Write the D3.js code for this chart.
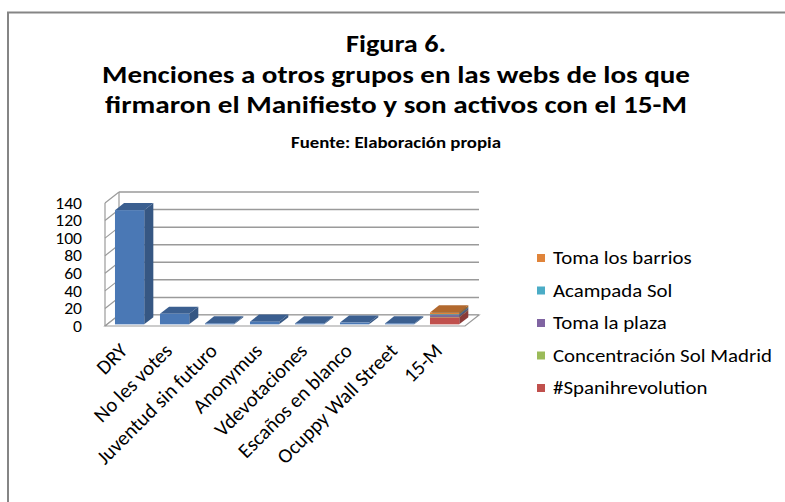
<!DOCTYPE html>
<html>
<head>
<meta charset="utf-8">
<script src="https://cdn.jsdelivr.net/npm/d3@7"></script>
<style>
  body { margin: 0; background: #fff; }
  svg { display: block; font-family: Carlito, Calibri, Lato, sans-serif; }
</style>
</head>
<body>
<svg width="785" height="502"></svg>
<script>
// data
const categories = ['DRY', 'No les votes', 'Juventud sin futuro', 'Anonymus', 'Vdevotaciones',
  'Escaños en blanco', 'Ocuppy Wall Street', '15-M'];
const mainValues = [130, 12, 1, 3, 1, 2, 1, 0];
const spanishRevolution = [0, 0, 0, 0, 0, 0, 0, 8];
const concentracionSol = [0, 0, 0, 0, 0, 0, 0, 0.5];
const tomaLaPlaza = [0, 0, 0, 0, 0, 0, 0, 2];
const acampadaSol = [0, 0, 0, 0, 0, 0, 0, 1];
const tomaLosBarrios = [0, 0, 0, 0, 0, 0, 0, 2];
const yTicks = [0, 20, 40, 60, 80, 100, 120, 140];

const series = [
  { name: null, values: mainValues, color: '#4a78b5' },
  { name: '#Spanihrevolution', values: spanishRevolution, color: '#c0504d' },
  { name: 'Concentración Sol Madrid', values: concentracionSol, color: '#9bbb59' },
  { name: 'Toma la plaza', values: tomaLaPlaza, color: '#8064a2' },
  { name: 'Acampada Sol', values: acampadaSol, color: '#4bacc6' },
  { name: 'Toma los barrios', values: tomaLosBarrios, color: '#e0843a' }
];

const svg = d3.select('svg');

// squeeze text horizontally (font here is wider than the original one)
function squeeze(sel, factor) {
  sel.each(function () {
    const w = this.getComputedTextLength();
    d3.select(this).attr('textLength', w * factor).attr('lengthAdjust', 'spacingAndGlyphs');
  });
}

// outer frame
svg.append('rect')
  .attr('x', 8).attr('y', 12.5)
  .attr('width', 820).attr('height', 600)
  .attr('fill', 'none').attr('stroke', '#858585').attr('stroke-width', 2);

// titles
const titles = [
  { t: 'Figura 6.', y: 52, w: 100, fs: 24 },
  { t: 'Menciones a otros grupos en las webs de los que', y: 83, w: 588, fs: 24 },
  { t: 'firmaron el Manifiesto y son activos con el 15-M', y: 113, w: 582, fs: 24 },
  { t: 'Fuente: Elaboración propia', y: 148, w: 210, fs: 15 }
];
titles.forEach(d => {
  const s = svg.append('text')
    .attr('x', 396).attr('y', d.y)
    .attr('text-anchor', 'middle')
    .attr('font-size', d.fs)
    .attr('font-weight', 'bold')
    .attr('fill', '#000')
    .text(d.t);
  s.attr('textLength', d.w).attr('lengthAdjust', 'spacingAndGlyphs');
});

// 3D geometry
const DX = 14, DY = -11; // full depth offset
const x = d3.scaleBand()
  .domain(categories)
  .range([105, 465])
  .paddingInner(0.35)
  .paddingOuter(0.175);
const y = d3.scaleLinear()
  .domain([0, 140])
  .range([326, 203]);

const grid = svg.append('g');
// back wall gridlines
grid.selectAll('line.h')
  .data(yTicks)
  .join('line')
  .attr('x1', x.range()[0] + DX).attr('x2', x.range()[1] + DX)
  .attr('y1', d => y(d) + DY).attr('y2', d => y(d) + DY)
  .attr('stroke', '#9a9a9a').attr('stroke-width', 1.5);
// side wall diagonals
grid.selectAll('line.s')
  .data(yTicks)
  .join('line')
  .attr('x1', x.range()[0]).attr('x2', x.range()[0] + DX)
  .attr('y1', d => y(d)).attr('y2', d => y(d) + DY)
  .attr('stroke', '#9a9a9a').attr('stroke-width', 1.2);
// side wall vertical edges
[0, 1].forEach(k => {
  grid.append('line')
    .attr('x1', x.range()[0] + k * DX).attr('x2', x.range()[0] + k * DX)
    .attr('y1', y(0) + k * DY).attr('y2', y(140) + k * DY)
    .attr('stroke', '#9a9a9a').attr('stroke-width', 1.2);
});
// floor
const x0 = x.range()[0], x1 = x.range()[1];
grid.append('path')
  .attr('d', `M${x0},${y(0)}L${x1},${y(0)}L${x1 + DX},${y(0) + DY}L${x0 + DX},${y(0) + DY}Z`)
  .attr('fill', '#fff').attr('stroke', '#9a9a9a').attr('stroke-width', 1.2);

// y tick labels
const tl = svg.append('g').selectAll('text')
  .data(yTicks)
  .join('text')
  .attr('x', 82).attr('y', d => y(d))
  .attr('dy', '0.36em')
  .attr('text-anchor', 'end')
  .attr('font-size', 16)
  .attr('fill', '#000')
  .text(d => d);
squeeze(tl, 1.1);

// bars
const d1 = 0.15, d2 = 0.8;
const bars = svg.append('g');
categories.forEach((c, i) => {
  let base = 0;
  series.forEach(s => {
    const v = s.values[i];
    if (v <= 0) return;
    const top = base + v;
    const xl = x(c) + d1 * DX, xr = x(c) + x.bandwidth() + d1 * DX;
    const yb = y(base) + d1 * DY, yt = y(top) + d1 * DY;
    const ox = (d2 - d1) * DX, oy = (d2 - d1) * DY;
    const col = d3.color(s.color);
    bars.append('path') // side
      .attr('d', `M${xr},${yb}L${xr + ox},${yb + oy}L${xr + ox},${yt + oy}L${xr},${yt}Z`)
      .attr('fill', col.darker(0.9));
    bars.append('path') // top
      .attr('d', `M${xl},${yt}L${xr},${yt}L${xr + ox},${yt + oy}L${xl + ox},${yt + oy}Z`)
      .attr('fill', col.darker(0.65));
    bars.append('rect') // front
      .attr('x', xl).attr('y', yt)
      .attr('width', xr - xl).attr('height', yb - yt)
      .attr('fill', col);
    base = top;
  });
});

// category labels
svg.append('g').selectAll('text')
  .data(categories)
  .join('text')
  .attr('transform', d => `translate(${x(d) + x.bandwidth() / 2 + 1},${352}) rotate(-45)`)
  .attr('text-anchor', 'end')
  .attr('font-size', 20.5)
  .attr('fill', '#000')
  .text(d => d);

// legend
const legendItems = series.filter(s => s.name).reverse();
const lg = svg.append('g').selectAll('g')
  .data(legendItems)
  .join('g')
  .attr('transform', (d, i) => `translate(537,${258 + i * 32.5})`);
lg.append('rect')
  .attr('x', 0).attr('y', -4).attr('width', 8).attr('height', 8)
  .attr('fill', d => d.color);
const lt = lg.append('text')
  .attr('x', 16).attr('dy', '0.35em')
  .attr('font-size', 18)
  .attr('fill', '#000')
  .text(d => d.name);
const conc = lt.filter(d => d.name === 'Concentración Sol Madrid');
squeeze(lt, 219 / conc.node().getComputedTextLength());
</script>
</body>
</html>
